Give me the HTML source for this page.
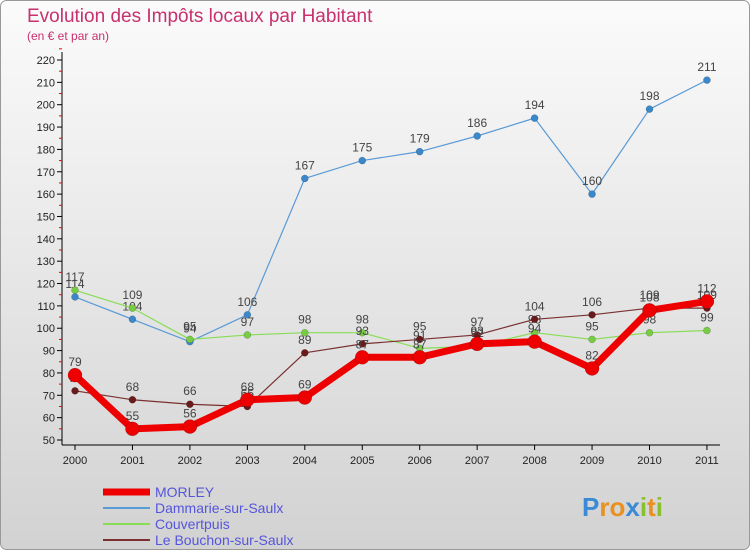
<!DOCTYPE html>
<html><head><meta charset="utf-8"><style>
body{margin:0;width:750px;height:550px;overflow:hidden;font-family:"Liberation Sans",sans-serif}
</style></head><body>
<svg width="750" height="550" xmlns="http://www.w3.org/2000/svg">
<defs><linearGradient id="bg" x1="0" y1="0" x2="0" y2="1"><stop offset="0" stop-color="#fbfbfb"/><stop offset="1" stop-color="#d2d2d2"/></linearGradient></defs>
<rect x="0.5" y="0.5" width="749" height="549" rx="6" fill="url(#bg)" stroke="#999"/>
<text x="27" y="22" font-size="19" fill="#c8306e">Evolution des Impôts locaux par Habitant</text>
<text x="27" y="40" font-size="12" fill="#c8306e">(en € et par an)</text>
<g id="axes"></g>
<g id="series"></g>
<g id="legend"></g>
<g font-size="26" font-weight="bold">
<text x="582" y="516"><tspan fill="#3a8ad6">P</tspan><tspan fill="#e89020">r</tspan><tspan fill="#e89020">o</tspan><tspan fill="#3a8ad6">x</tspan><tspan fill="#88c030">i</tspan><tspan fill="#e89020">t</tspan><tspan fill="#88c030">i</tspan></text>
</g>
</svg>
<script>
const years=["2000","2001","2002","2003","2004","2005","2006","2007","2008","2009","2010","2011"];
const morley=[79,55,56,68,69,87,87,93,94,82,108,112];
const dammarie=[114,104,94,106,167,175,179,186,194,160,198,211];
const couvertpuis=[117,109,95,97,98,98,91,92,98,95,98,99];
const bouchon=[72,68,66,65,89,93,95,97,104,106,109,109];
const yTicks=[50,60,70,80,90,100,110,120,130,140,150,160,170,180,190,200,210,220];
const NS="http://www.w3.org/2000/svg";
const X=i=>75+i*57.45;
const Y=v=>440-(v-50)*(380/170);
function mk(t,a,p){const e=document.createElementNS(NS,t);for(const k in a)e.setAttribute(k,a[k]);p.appendChild(e);return e;}
const ax=document.getElementById('axes');
const yl=mk('line',{x1:62,y1:52,x2:62,y2:445,stroke:'#000'},ax);


const xl=mk('line',{x1:62,y1:445,x2:720,y2:445,stroke:'#000'},ax);


yTicks.forEach(v=>{
 mk('line',{x1:57,y1:Y(v),x2:62,y2:Y(v),stroke:'#000'},ax);
 mk('line',{x1:59,y1:Y(v+5),x2:62,y2:Y(v+5),stroke:'#e00'},ax);
 const t=mk('text',{x:55,y:Y(v)+4,'font-size':11,'text-anchor':'end',fill:'#222'},ax);t.textContent=v;
 
 
});
years.forEach((y,i)=>{
 mk('line',{x1:X(i),y1:445,x2:X(i),y2:450,stroke:'#000'},ax);
 const t=mk('text',{x:X(i),y:464,'font-size':11,'text-anchor':'middle',fill:'#222'},ax);t.textContent=y;
 
 
});
const sg=document.getElementById('series');
function draw(data,color,w,r,name,dot){
 const g=mk('g',{},sg);
 
 
 mk('polyline',{points:data.map((v,i)=>X(i)+','+Y(v)).join(' '),fill:'none',stroke:color,'stroke-width':w,'stroke-linejoin':'round'},g);
 data.forEach((v,i)=>{
  const c=mk('circle',{cx:X(i),cy:Y(v),r:r,fill:dot,stroke:'rgba(0,0,0,0.3)','stroke-width':0.5},g);
  
  
  const t=mk('text',{x:X(i),y:Y(v)-9,'font-size':12,'text-anchor':'middle',fill:'#444'},g);t.textContent=v;
  
  
 });
}
draw(dammarie,'#5a9ad6',1.2,3.5,'series-dammarie','#3a88cc');
draw(couvertpuis,'#88dd55',1.2,3.5,'series-couvertpuis','#77cc44');
draw(bouchon,'#7a3030',1.2,3.5,'series-bouchon','#6a1a1a');
draw(morley,'#ee0000',7,7,'series-morley','#ee0000');
const lg=document.getElementById('legend');
const items=[["MORLEY","#ee0000",7],["Dammarie-sur-Saulx","#5a9ad6",2],["Couvertpuis","#88dd55",2],["Le Bouchon-sur-Saulx","#7a3030",2]];
items.forEach((it,k)=>{
 const y=492+k*16;
 const g=mk('g',{},lg);
 
 
 mk('line',{x1:103,y1:y,x2:150,y2:y,stroke:it[1],'stroke-width':it[2]},g);
 const t=mk('text',{x:155,y:y+5,'font-size':14,fill:'#5555dd'},g);t.textContent=it[0];
});
</script>
</body></html>
